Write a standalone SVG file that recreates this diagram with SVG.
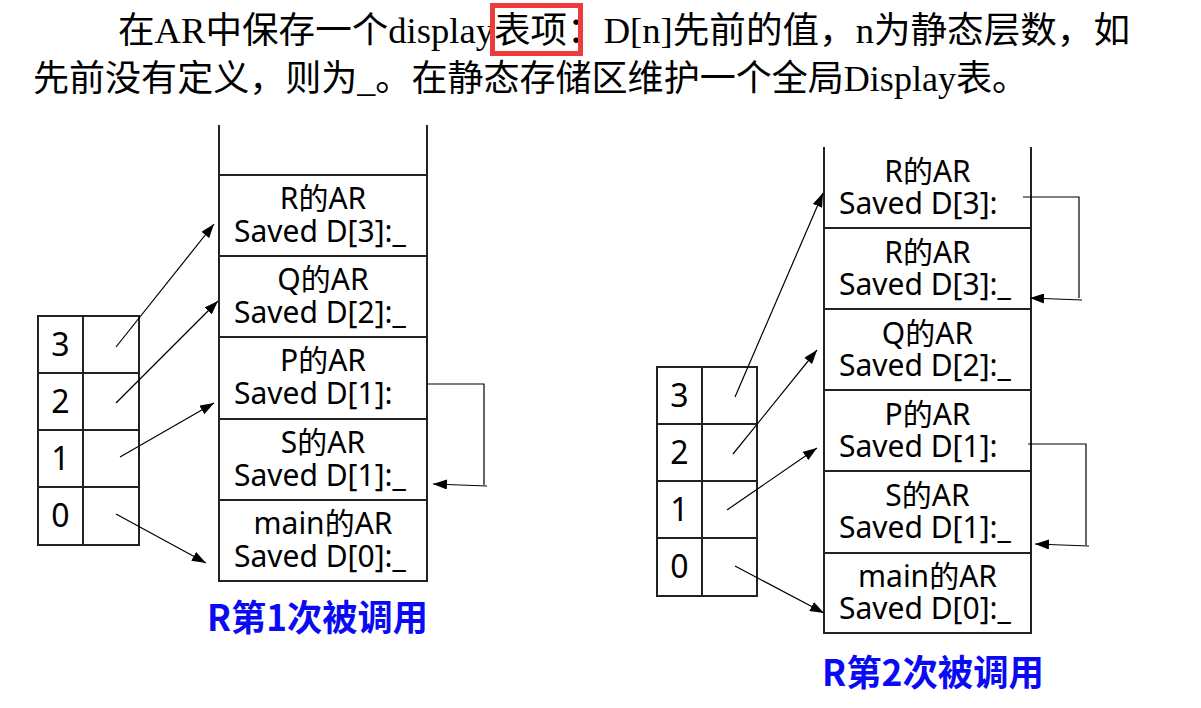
<svg xmlns="http://www.w3.org/2000/svg" width="1201" height="708" viewBox="0 0 1201 708">
<style>
.head{font-family:"Liberation Serif","Noto Sans CJK SC",serif;font-size:36px;fill:#000}
.cell{font-family:"Noto Sans","Noto Sans CJK SC",sans-serif;font-size:30px;fill:#000}
.mid{text-anchor:middle}
.num{font-family:"Noto Sans","Noto Sans CJK SC",sans-serif;font-size:32px;fill:#000;text-anchor:middle}
.title{font-family:"Noto Sans CJK SC",sans-serif;font-weight:bold;font-size:36px;fill:#0a0af5;text-anchor:middle}
.box{fill:none;stroke:#222;stroke-width:2}
.conn{fill:none;stroke:#000;stroke-width:1.2}
</style>
<defs>
<marker id="ah" markerUnits="userSpaceOnUse" markerWidth="14" markerHeight="10" refX="14" refY="5" orient="auto">
<path d="M0,0 L14,5 L0,10 z" fill="#000"/>
</marker>
</defs>
<rect width="1201" height="708" fill="#fff"/>
<g id="header">
<text class="head" x="118" y="43" textLength="1012" lengthAdjust="spacingAndGlyphs">在AR中保存一个display表项：D[n]先前的值，n为静态层数，如</text>
<text class="head" x="33" y="91" textLength="995" lengthAdjust="spacingAndGlyphs">先前没有定义，则为_。在静态存储区维护一个全局Display表。</text>
<rect x="492.5" y="5.5" width="88" height="48" fill="none" stroke="#ee3b3b" stroke-width="5"/>
</g>
<g id="left-stack">
<path class="box" d="M219,125 V581 H427 V125 M219,175 H427 M219,256 H427 M219,337 H427 M219,419 H427 M219,500 H427"/>
<text class="cell"><tspan class="mid" x="323" y="209">R的AR</tspan><tspan x="234" y="242">Saved D[3]:_</tspan></text>
<text class="cell"><tspan class="mid" x="323" y="290">Q的AR</tspan><tspan x="234" y="323">Saved D[2]:_</tspan></text>
<text class="cell"><tspan class="mid" x="323" y="371">P的AR</tspan><tspan x="234" y="404">Saved D[1]:</tspan></text>
<text class="cell"><tspan class="mid" x="323" y="453">S的AR</tspan><tspan x="234" y="486">Saved D[1]:_</tspan></text>
<text class="cell"><tspan class="mid" x="323" y="534">main的AR</tspan><tspan x="234" y="567">Saved D[0]:_</tspan></text>
</g>
<g id="left-display">
<path class="box" d="M38,316 H139 V545 H38 Z M83,316 V545 M38,373 H139 M38,430 H139 M38,487 H139"/>
<text class="num" x="60.5" y="356">3</text>
<text class="num" x="60.5" y="413">2</text>
<text class="num" x="60.5" y="470">1</text>
<text class="num" x="60.5" y="527">0</text>
</g>
<g id="right-stack">
<path class="box" d="M824,147 V633 H1031 V147 M824,228 H1031 M824,309 H1031 M824,390 H1031 M824,471 H1031 M824,553 H1031"/>
<text class="cell"><tspan class="mid" x="927.5" y="182">R的AR</tspan><tspan x="839" y="214">Saved D[3]:</tspan></text>
<text class="cell"><tspan class="mid" x="927.5" y="263">R的AR</tspan><tspan x="839" y="295">Saved D[3]:_</tspan></text>
<text class="cell"><tspan class="mid" x="927.5" y="344">Q的AR</tspan><tspan x="839" y="376">Saved D[2]:_</tspan></text>
<text class="cell"><tspan class="mid" x="927.5" y="425">P的AR</tspan><tspan x="839" y="457">Saved D[1]:</tspan></text>
<text class="cell"><tspan class="mid" x="927.5" y="506">S的AR</tspan><tspan x="839" y="538">Saved D[1]:_</tspan></text>
<text class="cell"><tspan class="mid" x="927.5" y="587">main的AR</tspan><tspan x="839" y="619">Saved D[0]:_</tspan></text>
</g>
<g id="right-display">
<path class="box" d="M657,367 H757 V596 H657 Z M702,367 V596 M657,424 H757 M657,481 H757 M657,538 H757"/>
<text class="num" x="679.5" y="407">3</text>
<text class="num" x="679.5" y="464">2</text>
<text class="num" x="679.5" y="521">1</text>
<text class="num" x="679.5" y="578">0</text>
</g>
<g id="connectors">
<line class="conn" x1="116" y1="347" x2="214" y2="224" marker-end="url(#ah)"/>
<line class="conn" x1="116" y1="403" x2="218" y2="301" marker-end="url(#ah)"/>
<line class="conn" x1="120" y1="457" x2="214" y2="403" marker-end="url(#ah)"/>
<line class="conn" x1="116" y1="514" x2="206" y2="563" marker-end="url(#ah)"/>
<polyline class="conn" points="428,384 484,384 484,485"/>
<line class="conn" x1="487" y1="486" x2="433" y2="484" marker-end="url(#ah)"/>
<line class="conn" x1="735" y1="397" x2="823" y2="193" marker-end="url(#ah)"/>
<line class="conn" x1="733" y1="454" x2="817" y2="350" marker-end="url(#ah)"/>
<line class="conn" x1="727" y1="510" x2="817" y2="448" marker-end="url(#ah)"/>
<line class="conn" x1="735" y1="566" x2="824" y2="613" marker-end="url(#ah)"/>
<polyline class="conn" points="1023,197 1079,197 1079,298"/>
<line class="conn" x1="1082" y1="300" x2="1030" y2="298" marker-end="url(#ah)"/>
<polyline class="conn" points="1028,444 1086,444 1086,545"/>
<line class="conn" x1="1089" y1="546" x2="1035" y2="544" marker-end="url(#ah)"/>
</g>
<g id="titles">
<text class="title" x="317.5" y="631" textLength="221" lengthAdjust="spacingAndGlyphs">R第1次被调用</text>
<text class="title" x="933" y="686" textLength="222" lengthAdjust="spacingAndGlyphs">R第2次被调用</text>
</g>
</svg>
